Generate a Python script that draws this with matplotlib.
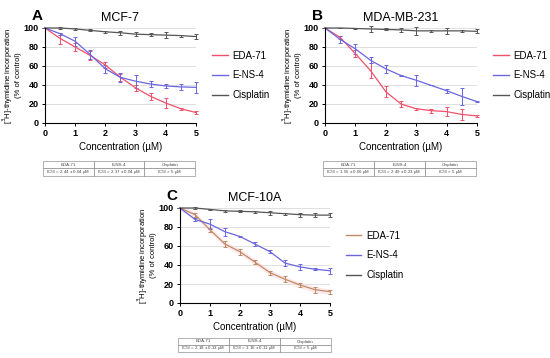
import matplotlib
matplotlib.use("Agg")
import matplotlib.pyplot as plt
from matplotlib.lines import Line2D
import numpy as np

plt.rcParams['font.family'] = ['Liberation Sans', 'DejaVu Sans']

conc = [0, 0.5, 1, 1.5, 2, 2.5, 3, 3.5, 4, 4.5, 5]

# Panel A: MCF-7
a_eda = [100, 89, 80, 71, 61, 48, 37, 28, 21, 15, 11]
a_eda_err = [0, 6, 4, 5, 3, 4, 3, 4, 5, 1, 2]
a_ens = [100, 94, 86, 72, 57, 48, 44, 41, 39, 38, 37.5]
a_ens_err = [0, 1, 5, 5, 4, 5, 7, 3, 2, 3, 6]
a_cis = [100, 100, 99, 97.5, 96, 95, 93.5, 93, 92.5, 92, 91]
a_cis_err = [0, 1, 1.5, 1, 1, 2, 2, 1.5, 3, 1, 3]

# Panel B: MDA-MB-231
b_eda = [100, 90, 73, 55, 33, 20, 15, 13, 12, 9, 7.5]
b_eda_err = [0, 2, 4, 8, 6, 3, 1, 2, 5, 6, 1]
b_ens = [100, 88, 78, 66, 57, 50, 45, 39.5, 34, 28, 22.5]
b_ens_err = [0, 4, 5, 3, 4, 1, 6, 0, 2, 9, 0.5]
b_cis = [100, 100, 99.5, 99, 98.5, 98, 97, 97, 97, 97, 96.5]
b_cis_err = [0, 0.5, 1, 3, 1, 2, 4, 1, 3, 1, 2]

# Panel C: MCF-10A
c_eda = [100, 93, 77, 62, 54, 43, 32, 25, 19, 14, 12]
c_eda_err = [0, 2, 2, 3, 3, 2, 2, 3, 2, 3, 2]
c_ens = [100, 88, 83, 75, 70, 62, 54, 42, 38, 35.5, 34]
c_ens_err = [0, 2, 5, 4, 1, 2, 1.5, 3, 3, 1, 3]
c_cis = [100, 100, 98.5, 97, 96.5, 96, 95, 94, 93, 92.5, 92.5]
c_cis_err = [0, 1, 0.5, 1, 1, 1, 2, 1, 2, 2, 2]

series_names = ['EDA-71', 'E-NS-4', 'Cisplatin']
xticks = [0, 1, 2, 3, 4, 5]
yticks = [0, 20, 40, 60, 80, 100]

tables = {
    'A': ['IC$_{50}$ = 2.44 ± 0.04 µM', 'IC$_{50}$ = 2.37 ± 0.04 µM', 'IC$_{50}$ > 5 µM'],
    'B': ['IC$_{50}$ = 1.55 ± 0.06 µM', 'IC$_{50}$ = 2.49 ± 0.23 µM', 'IC$_{50}$ > 5 µM'],
    'C': ['IC$_{50}$ = 2.18 ± 0.13 µM', 'IC$_{50}$ = 3.16 ± 0.11 µM', 'IC$_{50}$ > 5 µM'],
}

W, H = 550, 358
fig = plt.figure(figsize=(W / 100, H / 100), dpi=100)


def px(l, t, r, b):
    return [l / W, 1 - b / H, (r - l) / W, (b - t) / H]


panels = [
    ('A', 'MCF-7', px(45, 28, 196, 123), px(43, 161, 195, 176),
     [(a_eda, a_eda_err, '#f2506a'), (a_ens, a_ens_err, '#6a66e0'), (a_cis, a_cis_err, '#555555')]),
    ('B', 'MDA-MB-231', px(325, 28, 477, 123), px(323, 161, 476, 176),
     [(b_eda, b_eda_err, '#f2506a'), (b_ens, b_ens_err, '#6a66e0'), (b_cis, b_cis_err, '#555555')]),
    ('C', 'MCF-10A', px(180, 208, 330, 303), px(178, 338, 331, 352),
     [(c_eda, c_eda_err, '#c48a64'), (c_ens, c_ens_err, '#6a66e0'), (c_cis, c_cis_err, '#555555')]),
]

for letter, title, pos, tpos, data in panels:
    ax = fig.add_axes(pos)
    for y in yticks[1:]:
        ax.axhline(y, color='#d9d9d9', lw=0.6, zorder=0)
    if letter == 'C':
        eda, err, _ = data[0]
        ax.fill_between(conc, np.array(eda) - 3, np.array(eda) + 3,
                        color='#f7d6dc', alpha=0.5, lw=0, zorder=0.5)
    handles = []
    for (vals, errs, col), name in zip(data, series_names):
        ax.errorbar(conc, vals, yerr=errs, color=col, lw=0.9, elinewidth=0.7,
                    capsize=1.6, capthick=0.7, clip_on=False)
        handles.append(Line2D([], [], color=col, lw=1.0, label=name))
    ax.set_xlim(0, 5)
    ax.set_ylim(0, 100)
    ax.set_xticks(xticks)
    ax.set_yticks(yticks)
    ax.tick_params(labelsize=6.5, length=2.5, width=0.7, pad=2)
    for lab in ax.get_xticklabels() + ax.get_yticklabels():
        lab.set_fontweight('bold')
    for s in ['top', 'right']:
        ax.spines[s].set_visible(False)
    for s in ['left', 'bottom']:
        ax.spines[s].set_linewidth(0.8)
    ax.set_xlabel('Concentration (µM)', fontsize=7, labelpad=3)
    ax.set_ylabel('[$^3$H]-thymidine incorporation\n(% of control)', fontsize=5.5,
                  labelpad=1.5, linespacing=1.0)
    ax.set_title(title, fontsize=9, pad=5)
    ax.text(-0.015, 1.05, letter, transform=ax.transAxes, fontsize=11,
            fontweight='bold', ha='right', va='bottom')
    ax.legend(handles=handles, loc='center left', bbox_to_anchor=(1.08, 0.5),
              frameon=False, fontsize=7, handlelength=1.6, labelspacing=1.0,
              handletextpad=0.5, borderaxespad=0)

    tax = fig.add_axes(tpos)
    tax.axis('off')
    tbl = tax.table(cellText=[series_names, tables[letter]], cellLoc='center',
                    bbox=[0, 0, 1, 1])
    tbl.auto_set_font_size(False)
    tbl.set_fontsize(3.2)
    for cell in tbl.get_celld().values():
        cell.set_linewidth(0.4)
        cell.set_edgecolor('#777777')
        cell.get_text().set_color('#444444')

fig.savefig('out.png', dpi=100)
